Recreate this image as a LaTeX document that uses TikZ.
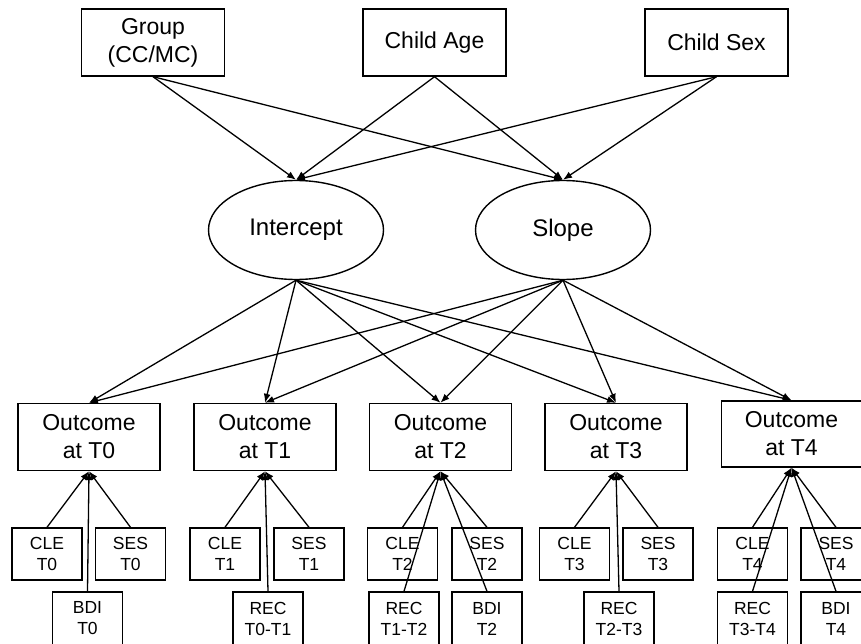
\documentclass[tikz,border=0pt]{standalone}
\usepackage{fontspec}
\setmainfont{Liberation Sans}
\usetikzlibrary{arrows.meta,shapes.geometric}
\begin{document}
\begin{tikzpicture}[x=1pt,y=-1pt,
  big/.style={draw, line width=1.4pt, align=center, font=\fontsize{23}{28}\selectfont, inner sep=0pt},
  topbox/.style={big, minimum width=143pt, minimum height=67pt},
  outbox/.style={big, minimum width=142pt, minimum height=67pt},
  latent/.style={big, ellipse, minimum width=175pt, minimum height=99pt, font=\fontsize{24}{28}\selectfont},
  smallbox/.style={draw, line width=1.4pt, align=center, font=\fontsize{17.5}{21}\selectfont, minimum width=70pt, minimum height=52pt, inner sep=0pt},
  lowbox/.style={smallbox, minimum height=53pt},
  arr/.style={line width=1.3pt, -{Latex[length=9pt,width=7pt]}}
]
\clip (0,0) rectangle (861,644);
% top
\node[topbox] (group) at (153,42.5) {Group\\(CC/MC)};
\node[topbox] (age) at (434.5,42.5) {Child Age};
\node[topbox] (sex) at (716.5,42.5) {Child Sex};
% latent
\node[latent] (int) at (296,230) {Intercept};
\node[latent] (slope) at (563,230) {Slope};
% outcomes
\node[outbox] (o0) at (89,437) {Outcome\\at T0};
\node[outbox] (o1) at (265,437) {Outcome\\at T1};
\node[outbox] (o2) at (440.5,437) {Outcome\\at T2};
\node[outbox] (o3) at (616,437) {Outcome\\at T3};
\node[outbox, minimum width=140pt, minimum height=66pt] (o4) at (791.5,434) {Outcome\\at T4};
% covariates
\node[smallbox] (c0) at (47,554) {CLE\\T0};
\node[smallbox] (s0) at (130.5,554) {SES\\T0};
\node[lowbox] (b0) at (87.5,618.5) {BDI\\T0};
\node[smallbox] (c1) at (225,554) {CLE\\T1};
\node[smallbox] (s1) at (309,554) {SES\\T1};
\node[lowbox] (r1) at (268,618.5) {REC\\T0-T1};
\node[smallbox] (c2) at (402.5,554) {CLE\\T2};
\node[smallbox] (s2) at (487,554) {SES\\T2};
\node[lowbox] (r2) at (404,618.5) {REC\\T1-T2};
\node[lowbox] (b2) at (487,618.5) {BDI\\T2};
\node[smallbox] (c3) at (574.5,554) {CLE\\T3};
\node[smallbox] (s3) at (658,554) {SES\\T3};
\node[lowbox] (r3) at (619,618.5) {REC\\T2-T3};
\node[smallbox] (c4) at (752.5,554) {CLE\\T4};
\node[smallbox] (s4) at (836,554) {SES\\T4};
\node[lowbox] (r4) at (752.5,618.5) {REC\\T3-T4};
\node[lowbox] (b4) at (836,618.5) {BDI\\T4};
% top arrows
\foreach \s in {group,age,sex}{
  \draw[arr] (\s.south) -- (int.north);
  \draw[arr] (\s.south) -- (slope.north);
}
% latent to outcomes
\foreach \o in {o0,o1,o2,o3,o4}{
  \draw[arr] (int.south) -- (\o.north);
  \draw[arr] (slope.south) -- (\o.north);
}
% covariates to outcomes
\draw[arr] (c0.north) -- (o0.south);
\draw[arr] (s0.north) -- (o0.south);
\draw[arr] (b0.north) -- (o0.south);
\draw[arr] (c1.north) -- (o1.south);
\draw[arr] (s1.north) -- (o1.south);
\draw[arr] (r1.north) -- (o1.south);
\draw[arr] (c2.north) -- (o2.south);
\draw[arr] (s2.north) -- (o2.south);
\draw[arr] (r2.north) -- (o2.south);
\draw[arr] (b2.north) -- (o2.south);
\draw[arr] (c3.north) -- (o3.south);
\draw[arr] (s3.north) -- (o3.south);
\draw[arr] (r3.north) -- (o3.south);
\draw[arr] (c4.north) -- (o4.south);
\draw[arr] (s4.north) -- (o4.south);
\draw[arr] (r4.north) -- (o4.south);
\draw[arr] (b4.north) -- (o4.south);
\end{tikzpicture}
\end{document}
